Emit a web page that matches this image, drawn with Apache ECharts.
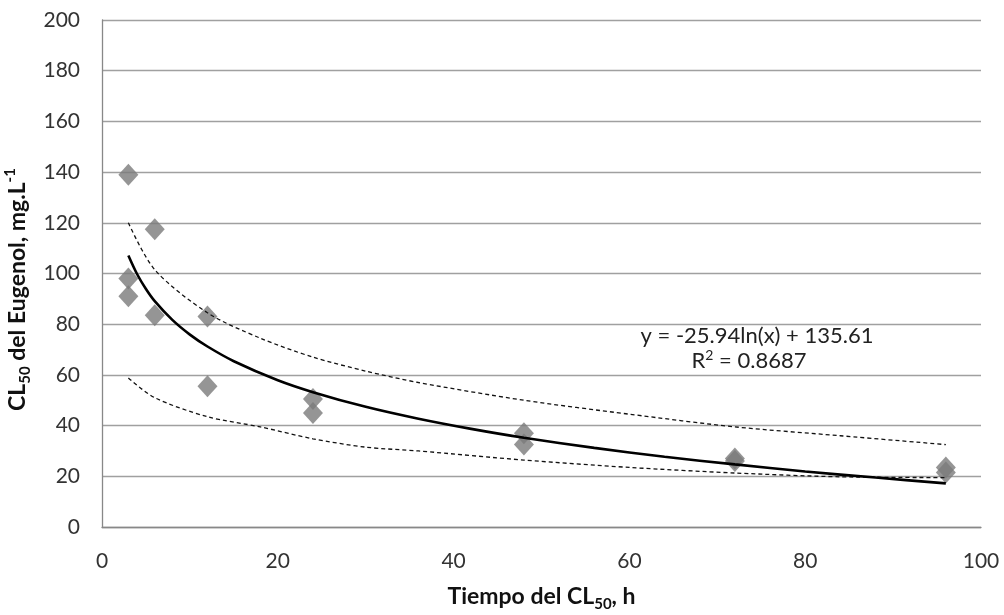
<!DOCTYPE html>
<html><head><meta charset="utf-8">
<script src="https://cdn.jsdelivr.net/npm/echarts@6/dist/echarts.min.js"></script>
<style>html,body{margin:0;padding:0;background:#fff}#c{width:1004px;height:615px}</style>
</head><body><div id="c"></div>
<script>
// Observed CL50 values (mg/L) by exposure time (h)
const obsTime = [3, 3, 3, 6, 6, 12, 12, 24, 24, 48, 48, 72, 72, 96, 96];
const obsCL50 = [139, 98, 91, 117.5, 83.5, 83, 55.5, 50.5, 45, 37, 32.5, 27, 26, 23.5, 21.5];
// Logarithmic trendline
const trendTime = [3, 4, 5, 6, 8, 10, 12, 15, 20, 24, 30, 36, 42, 48, 56, 64, 72, 80, 88, 96];
const trendCL50 = [107.1, 99.7, 93.9, 89.1, 81.7, 75.9, 71.2, 65.4, 57.9, 53.2, 47.4, 42.7, 38.7, 35.2, 31.2, 27.7, 24.7, 21.9, 19.5, 17.2];
// Dashed bands (upper / lower)
const upperTime = [3, 6, 12, 18, 24, 30, 36, 48, 60, 72, 84, 96];
const upperCL50 = [120, 101.5, 84.5, 74.5, 67, 61.5, 57, 50, 44.5, 39.5, 36, 32.5];
const lowerTime = [3, 6, 12, 18, 24, 30, 36, 48, 60, 72, 84, 96];
const lowerCL50 = [58.8, 51, 43.5, 39.5, 34.8, 31.5, 30, 26.4, 23.5, 21.3, 19.8, 19.5];
// Texts
const eqText = 'y = -25.94ln(x) + 135.61';
const r2Value = '0.8687';

const pairs = (xs, ys) => xs.map((x, i) => [x, ys[i]]);

const chart = echarts.init(document.getElementById('c'), null, {renderer: 'canvas'});
const FONT = 'Lato, "Open Sans", sans-serif';
chart.setOption({
  animation: false,
  backgroundColor: '#fff',
  grid: {left: 102, right: 23, top: 20, bottom: 88, containLabel: false, outerBoundsMode: 'none'},
  xAxis: {
    type: 'value', min: 0, max: 100, interval: 20,
    axisLine: {show: true, lineStyle: {color: '#888', width: 1.3}},
    axisTick: {show: false},
    splitLine: {show: false},
    axisLabel: {color: '#333', fontFamily: FONT, fontSize: 21, margin: 24},
    name: '{a|Tiempo del CL}{s|50}{a|, h}',
    nameLocation: 'middle', nameGap: 55,
    nameTextStyle: {
      rich: {
        a: {fontFamily: FONT, fontWeight: 'bold', fontSize: 23, color: '#111', lineHeight: 30, verticalAlign: 'middle'},
        s: {fontFamily: FONT, fontWeight: 'bold', fontSize: 15, color: '#111', lineHeight: 14, verticalAlign: 'bottom'}
      }
    }
  },
  yAxis: {
    type: 'value', min: 0, max: 200, interval: 20,
    axisLine: {show: true, lineStyle: {color: '#888', width: 1.3}},
    axisTick: {show: false},
    splitLine: {show: true, lineStyle: {color: '#a0a0a0', width: 1.3}},
    axisLabel: {color: '#333', fontFamily: FONT, fontSize: 21, margin: 22},
    name: '{a|CL}{s|50}{a| del Eugenol, mg.L}{p|-1}',
    nameLocation: 'middle', nameGap: 58, nameRotate: 90,
    nameTextStyle: {
      padding: [0, 32, 0, 0],
      rich: {
        a: {fontFamily: FONT, fontWeight: 'bold', fontSize: 23, color: '#111', lineHeight: 30, verticalAlign: 'middle'},
        s: {fontFamily: FONT, fontWeight: 'bold', fontSize: 15, color: '#111', lineHeight: 14, verticalAlign: 'bottom'},
        p: {fontFamily: FONT, fontWeight: 'bold', fontSize: 15, color: '#111', lineHeight: 14, verticalAlign: 'top'}
      }
    }
  },
  series: [
    {
      type: 'scatter', data: pairs(obsTime, obsCL50),
      symbol: 'diamond', symbolSize: [20, 22],
      itemStyle: {color: '#7a7a7a'}, z: 2
    },
    {
      type: 'line', data: pairs(trendTime, trendCL50), smooth: 0.3,
      showSymbol: false, lineStyle: {color: '#000', width: 2.6}, z: 4
    },
    {
      type: 'line', data: pairs(upperTime, upperCL50), smooth: 0.3,
      showSymbol: false, lineStyle: {color: '#111', width: 1.3, type: [4, 3]}, z: 3
    },
    {
      type: 'line', data: pairs(lowerTime, lowerCL50), smooth: 0.3,
      showSymbol: false, lineStyle: {color: '#111', width: 1.3, type: [4, 3]}, z: 3
    }
  ],
  graphic: [
    {type: 'text', x: 757, y: 336, z: 10,
      style: {text: eqText, fill: '#222', font: '22px ' + FONT, textAlign: 'center', textVerticalAlign: 'middle'}},
    {type: 'text', x: 749, y: 361, z: 10,
      style: {text: '{a|R}{p|2}{a| = ' + r2Value + '}', textAlign: 'center', textVerticalAlign: 'middle',
        rich: {
          a: {fontFamily: FONT, fontSize: 22, fill: '#222', lineHeight: 26, verticalAlign: 'middle'},
          p: {fontFamily: FONT, fontSize: 14, fill: '#222', lineHeight: 14, verticalAlign: 'top'}
        }}}
  ]
});
</script>
</body></html>
